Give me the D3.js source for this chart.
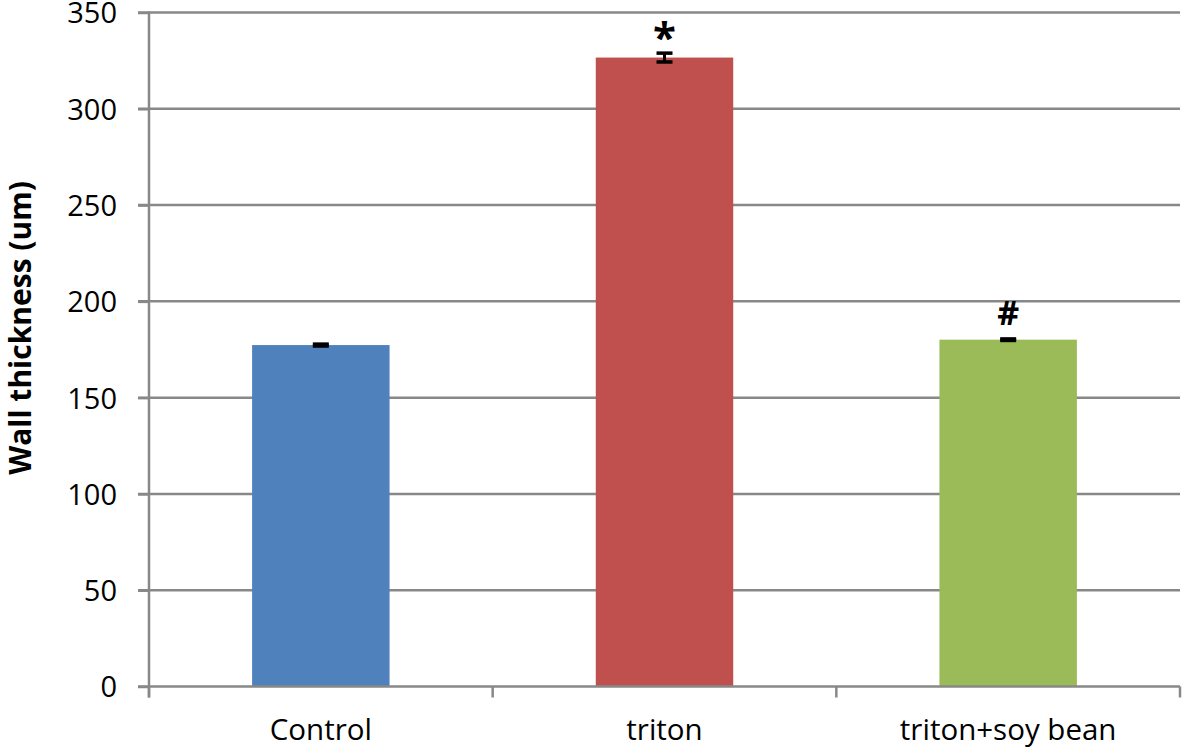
<!DOCTYPE html>
<html><head><meta charset="utf-8">
<script src="https://cdn.jsdelivr.net/npm/d3@7"></script>
<style>body{margin:0;background:#fff}svg{display:block}</style>
</head><body>
<svg id="c" width="1183" height="748"></svg>
<script>
const categories = ["Control", "triton", "triton+soy bean"];
const values = [177.3, 326.6, 180.1];
const errors = [0.5, 2.3, 0.4];
const marks = ["", "*", "#"];
const colors = ["#4F81BD", "#C0504D", "#9BBB59"];
const yTicks = [0, 50, 100, 150, 200, 250, 300, 350];

const svg = d3.select("#c");
const L = 149, R = 1180, T = 12.5, B = 686.5;
const font = "'Open Sans', 'Noto Sans', sans-serif";

const x = d3.scaleBand().domain(categories).range([L, R]).padding(0);
const y = d3.scaleLinear().domain([0, 350]).range([B, T]);

// gridlines
svg.append("g").selectAll("line").data(yTicks.filter(d => d > 0)).join("line")
  .attr("x1", L - 11).attr("x2", R).attr("y1", d => y(d)).attr("y2", d => y(d))
  .attr("stroke", "#888").attr("stroke-width", 2.5);

// y axis
const ya = svg.append("g").attr("transform", `translate(${L},0)`)
  .call(d3.axisLeft(y).tickValues(yTicks).tickSize(11).tickPadding(21).tickFormat(d3.format("d")));
ya.select(".domain").attr("stroke", "#888").attr("stroke-width", 2.5).attr("d", `M0,${T-1}V${B+11}`);
ya.selectAll(".tick line").attr("stroke", "#888").attr("stroke-width", 2.5);
ya.selectAll(".tick text").attr("font-family", font).attr("font-size", 29).attr("fill", "#000")
  .attr("dy", "0.36em");

// bars
const bw = x.bandwidth() * 0.4;
svg.append("g").selectAll("rect").data(categories).join("rect")
  .attr("x", d => x(d) + x.bandwidth() * 0.3)
  .attr("width", bw)
  .attr("y", (d, i) => y(values[i]))
  .attr("height", (d, i) => B - y(values[i]))
  .attr("fill", (d, i) => colors[i]);

// x axis
const xa = svg.append("g").attr("transform", `translate(0,${B})`);
xa.append("line").attr("x1", L - 11).attr("x2", R).attr("stroke", "#888").attr("stroke-width", 2.5);
const bounds = categories.map(c => x(c)).concat([R]);
xa.selectAll("line.t").data(bounds).join("line").attr("class", "t")
  .attr("x1", d => d).attr("x2", d => d).attr("y1", 0).attr("y2", 11)
  .attr("stroke", "#888").attr("stroke-width", 2.5);
xa.selectAll("text").data(categories).join("text")
  .attr("x", d => x(d) + x.bandwidth() / 2).attr("y", 53)
  .attr("text-anchor", "middle").attr("font-family", font).attr("font-size", 29.5).attr("fill", "#000")
  .text(d => d);

// error bars
const eb = svg.append("g");
categories.forEach((c, i) => {
  const cx = x(c) + x.bandwidth() / 2;
  const y1 = y(values[i] + errors[i]), y2 = y(values[i] - errors[i]);
  eb.append("line").attr("x1", cx).attr("x2", cx).attr("y1", y1).attr("y2", y2).attr("stroke", "#000").attr("stroke-width", 3);
  eb.append("line").attr("x1", cx - 8).attr("x2", cx + 8).attr("y1", y1).attr("y2", y1).attr("stroke", "#000").attr("stroke-width", 3.5);
  eb.append("line").attr("x1", cx - 8).attr("x2", cx + 8).attr("y1", y2).attr("y2", y2).attr("stroke", "#000").attr("stroke-width", 3.5);
  if (marks[i]) {
    eb.append("text").attr("x", cx).attr("y", y1 - (marks[i] === "*" ? 1 : 14))
      .attr("text-anchor", "middle").attr("font-family", font).attr("font-weight", "bold")
      .attr("font-size", marks[i] === "*" ? 42 : 34).attr("fill", "#000").text(marks[i]);
  }
});

// y label
svg.append("text").attr("transform", "translate(31,328) rotate(-90)")
  .attr("text-anchor", "middle").attr("font-family", font).attr("font-weight", "bold")
  .attr("font-size", 30).attr("fill", "#000").text("Wall thickness (um)");
</script>
</body></html>
